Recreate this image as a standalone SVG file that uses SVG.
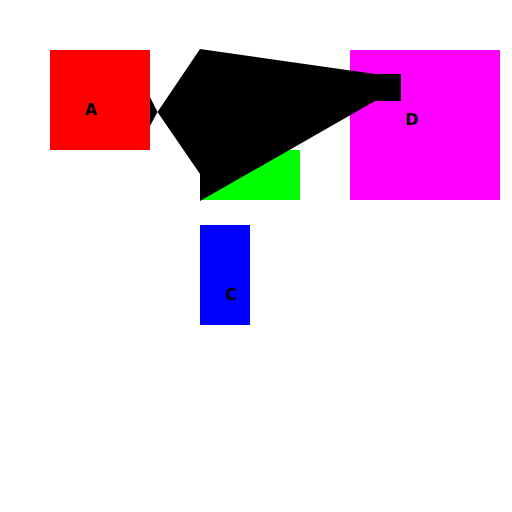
<svg xmlns="http://www.w3.org/2000/svg" width="512" height="512" viewBox="0 0 512 512">
<style>
.lbl{font-family:"DejaVu Sans","Liberation Sans",sans-serif;font-weight:bold;font-size:16px;fill:#000;text-anchor:middle}
.conn{fill:#000;stroke:none}
</style>
<rect width="512" height="512" fill="#fff"/>
<g id="A"><rect x="50" y="50" width="100" height="100" fill="#f00"/><text class="lbl" x="91" y="115">A</text></g>
<g id="B"><rect x="200" y="150" width="100" height="50" fill="#0f0"/></g>
<g id="C"><rect x="200" y="225" width="50" height="100" fill="#00f"/><text class="lbl" x="231" y="300">C</text></g>
<g id="D"><rect x="350" y="50" width="150" height="150" fill="#f0f"/><text class="lbl" x="412" y="125">D</text></g>
<g id="connectors">
<path class="conn" d="M150,97 L157.5,112 L150,126 Z"/>
<path class="conn" d="M157.5,112 L200,49 L375,74 L401,74 L401,101 L375,101 L200,201 L200,174 Z"/>
</g>
</svg>
